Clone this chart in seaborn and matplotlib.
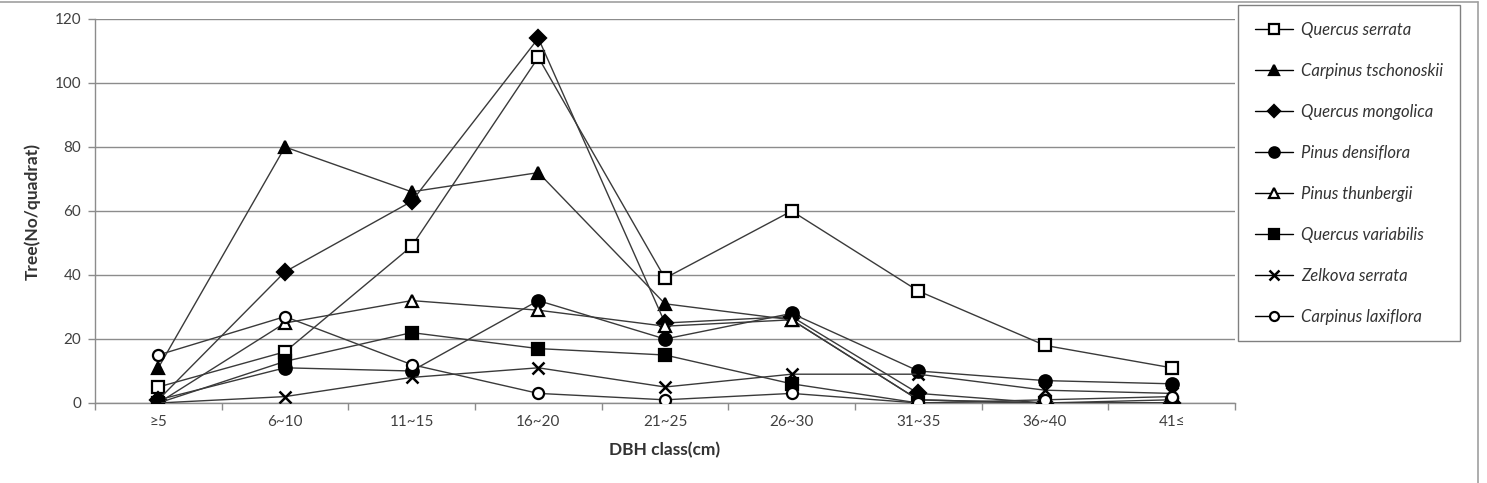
import matplotlib
matplotlib.use("Agg")
import matplotlib.pyplot as plt
from matplotlib.lines import Line2D
import seaborn as sns
import pandas as pd

categories = ["≥5", "6~10", "11~15", "16~20", "21~25", "26~30", "31~35", "36~40", "41≤"]

quercus_serrata = [5, 16, 49, 108, 39, 60, 35, 18, 11]
carpinus_tschonoskii = [11, 80, 66, 72, 31, 26, 1, 0, 0]
quercus_mongolica = [1, 41, 63, 114, 25, 27, 3, 0, 0]
pinus_densiflora = [1, 11, 10, 32, 20, 28, 10, 7, 6]
pinus_thunbergii = [0, 25, 32, 29, 24, 26, 1, 0, 1]
quercus_variabilis = [0, 13, 22, 17, 15, 6, 0, 0, 0]
zelkova_serrata = [0, 2, 8, 11, 5, 9, 9, 4, 3]
carpinus_laxiflora = [15, 27, 12, 3, 1, 3, 0, 1, 2]

species = ["Quercus serrata", "Carpinus tschonoskii", "Quercus mongolica", "Pinus densiflora",
           "Pinus thunbergii", "Quercus variabilis", "Zelkova serrata", "Carpinus laxiflora"]
values = [quercus_serrata, carpinus_tschonoskii, quercus_mongolica, pinus_densiflora,
          pinus_thunbergii, quercus_variabilis, zelkova_serrata, carpinus_laxiflora]

# marker, filled?
styles = [("s", False), ("^", True), ("D", True), ("o", True),
          ("^", False), ("s", True), ("x", True), ("o", False)]
msizes = [8, 9, 8, 9, 9, 8, 9, 8]

sns.set_theme(style="white")
plt.rcParams["font.family"] = ["Lato", "DejaVu Sans"]

fig = plt.figure(figsize=(14.87, 4.83), dpi=100)
ax = fig.add_axes([95 / 1487, 1 - 403 / 483, 1140 / 1487, 384 / 483])

line_col = "#3a3a3a"
handles = []
for name, vals, (mk, filled), ms in zip(species, values, styles, msizes):
    df = pd.DataFrame({"cls": categories, "n": vals})
    kw = dict(marker=mk, markeredgecolor="black",
              markerfacecolor="black" if filled else "white",
              markeredgewidth=1.6 if mk != "x" else 1.8)
    sns.lineplot(data=df, x="cls", y="n", ax=ax, color=line_col, linewidth=1.0,
                 sort=False, legend=False, zorder=3, markersize=ms, **kw)
    handles.append(Line2D([0], [0], color="black", linewidth=1.0, label=name,
                          markersize=ms - 1.5, **kw))

ax.set_xlim(-0.5, len(categories) - 0.5)
ax.set_ylim(0, 120)
ax.set_yticks(range(0, 121, 20))
ax.set_xticks(range(len(categories)))
ax.set_xticklabels(categories)
ax.set_xticks([i + 0.5 for i in range(-1, len(categories))], minor=True)
ax.grid(axis="y", color="#8c8c8c", linewidth=1.0)
ax.grid(axis="x", visible=False)
for s in ["top", "right"]:
    ax.spines[s].set_visible(False)
for s in ["left", "bottom"]:
    ax.spines[s].set_color("#8c8c8c")
    ax.spines[s].set_linewidth(1.0)
ax.tick_params(axis="x", which="major", length=0, pad=9, labelsize=11, labelcolor="#404040")
ax.tick_params(axis="x", which="minor", length=5, color="#8c8c8c", width=1.0, bottom=True)
ax.tick_params(axis="y", which="major", length=5, color="#8c8c8c", width=1.0, left=True,
               labelsize=11, labelcolor="#404040", pad=5)
ax.set_xlabel("DBH class(cm)", fontsize=12.5, fontweight="bold", color="#333333", labelpad=9)
ax.set_ylabel("Tree(No/quadrat)", fontsize=12.5, fontweight="bold", color="#333333", labelpad=10)

leg = fig.legend(handles=handles, loc="upper left",
                 bbox_to_anchor=(1238 / 1487, 1 - 5 / 483), frameon=True,
                 prop={"style": "italic", "size": 12}, labelspacing=1.5,
                 handlelength=2.3, handletextpad=0.5, borderpad=1.0, borderaxespad=0,
                 fancybox=False)
leg.get_frame().set_edgecolor("#606060")
leg.get_frame().set_linewidth(1.0)
for t in leg.get_texts():
    t.set_color("#333333")

# outer chart border (top and right)
fig.add_artist(Line2D([0, 1478 / 1487], [1 - 1.5 / 483, 1 - 1.5 / 483], color="#a0a0a0",
                      linewidth=1.2, transform=fig.transFigure))
fig.add_artist(Line2D([1478 / 1487, 1478 / 1487], [0, 1 - 1.5 / 483], color="#a0a0a0",
                      linewidth=1.2, transform=fig.transFigure))

fig.savefig("out.png", dpi=100)
